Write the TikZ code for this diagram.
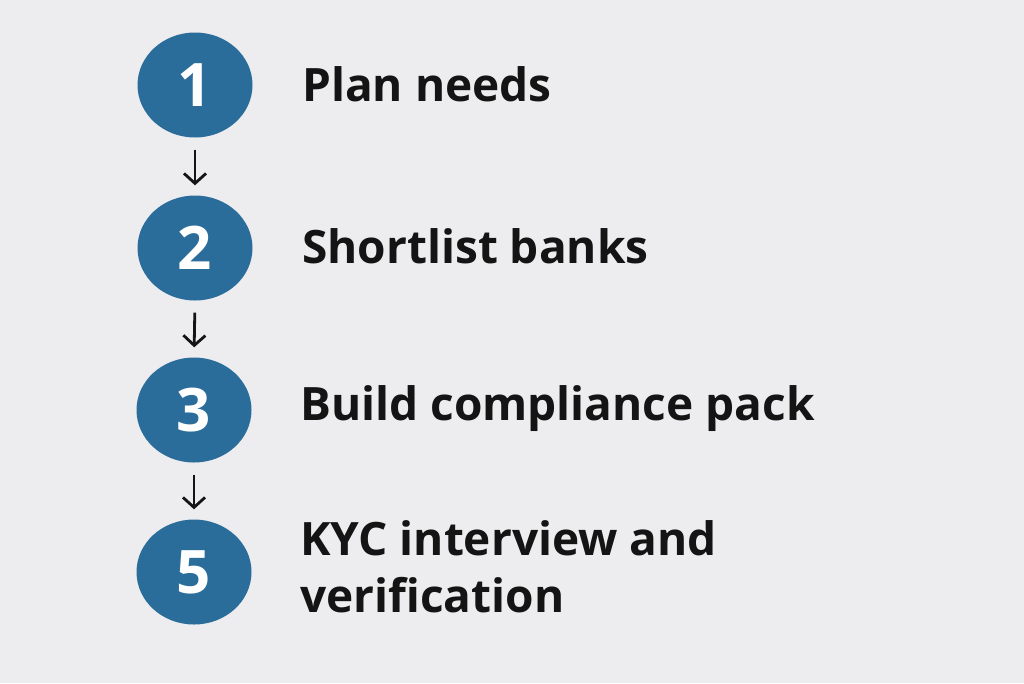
\documentclass[tikz,border=0pt]{standalone}
\usepackage{fontspec}
\setmainfont{Open Sans}
\usetikzlibrary{shapes.geometric,arrows.meta}
\definecolor{bg}{HTML}{EDEDEF}
\definecolor{stepblue}{HTML}{2B6D9A}
\definecolor{ink}{HTML}{141414}
\tikzset{
  stepcircle/.style={ellipse, fill=stepblue, draw=none, minimum width=115pt, minimum height=105pt, inner sep=0pt,
    text=white, font=\fontsize{60}{60}\selectfont\bfseries},
  steplabel/.style={anchor=base west, text=ink, inner sep=0pt, font=\fontsize{46}{57}\selectfont\bfseries, align=left},
  steparrow/.style={draw=ink, line width=2.8pt, -{Straight Barb[length=10pt,width=22pt,line width=2.8pt]}, shorten <=12pt, shorten >=10pt}
}
\begin{document}
\begin{tikzpicture}[x=1pt,y=-1pt]
\fill[bg] (0,0) rectangle (1024,683);
\useasboundingbox (0,0) rectangle (1024,683);
\node[stepcircle] (c1) at (195,85) {1};
\node[stepcircle] (c2) at (195,248) {2};
\node[stepcircle] (c3) at (194,410) {3};
\node[stepcircle] (c5) at (194,572) {5};
\draw[steparrow] (c1.south) -- (c2.north);
\draw[steparrow] (c2.south) -- (c3.north);
\draw[steparrow] (c3.south) -- (c5.north);
\node[steplabel] (t1) at (302,101) {Plan needs};
\node[steplabel] (t2) at (302,263) {Shortlist banks};
\node[steplabel] (t3) at (300,420) {Build compliance pack};
\node[steplabel] (t5) at (300,612) {KYC interview and\\verification};
\end{tikzpicture}
\end{document}
